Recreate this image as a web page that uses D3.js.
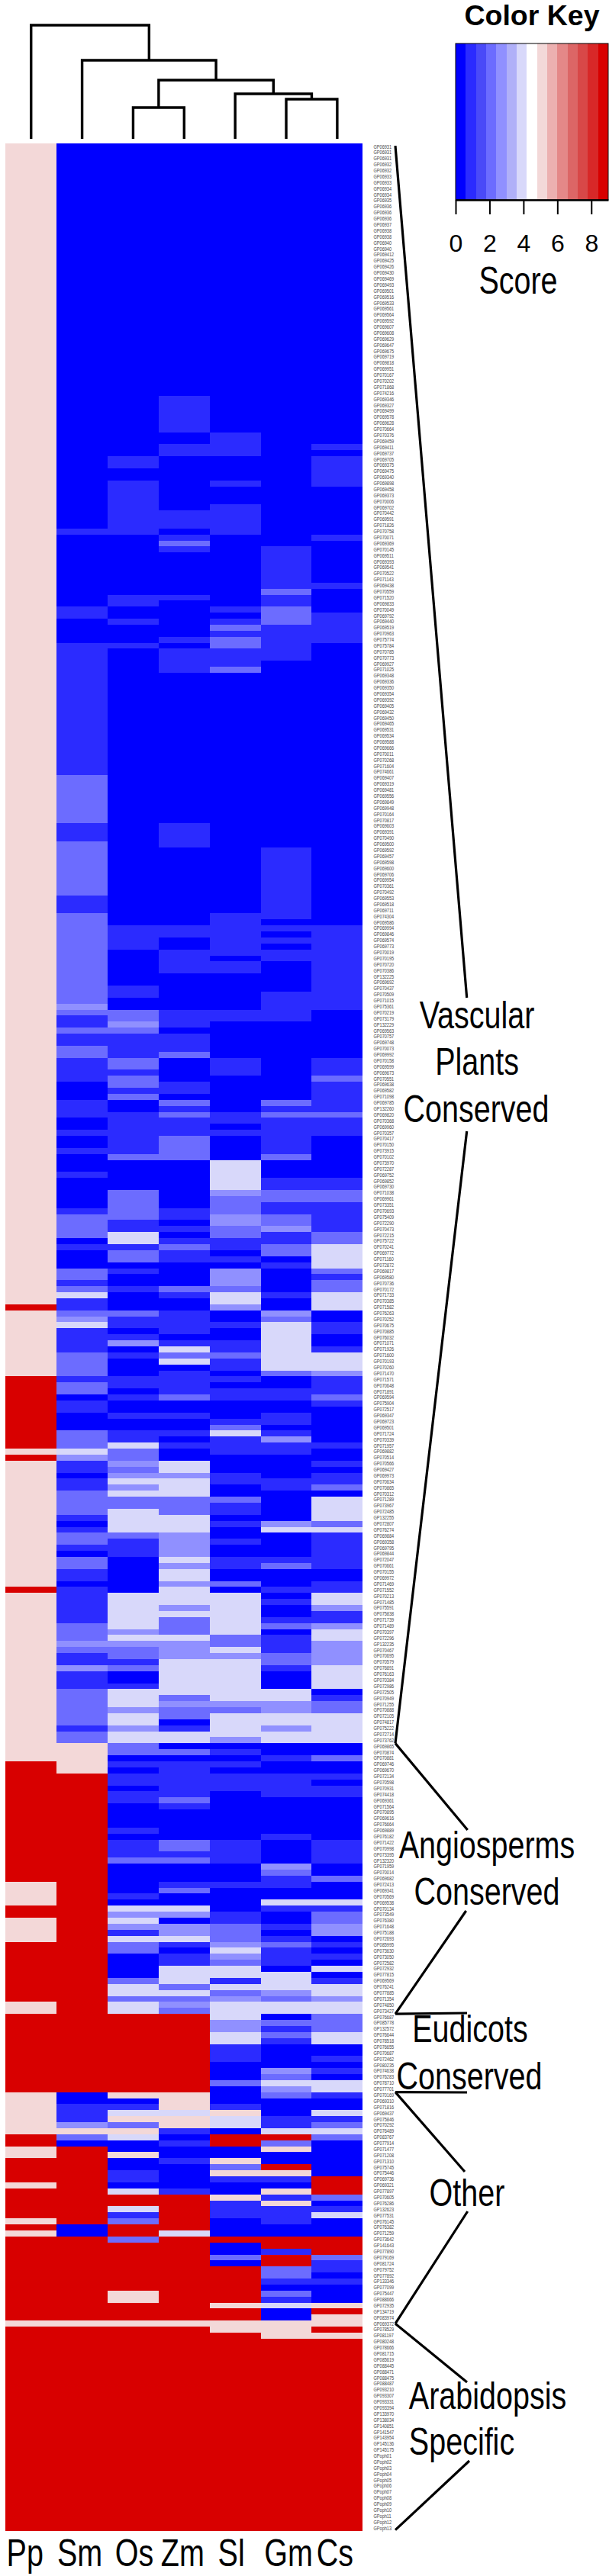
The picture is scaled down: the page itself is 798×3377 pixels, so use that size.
<!DOCTYPE html>
<html>
<head>
<meta charset="utf-8">
<script src="https://cdn.jsdelivr.net/npm/d3@7"></script>
<style>
  body { margin: 0; background: #fff; }
  text { font-family: "Liberation Sans", Arial, sans-serif; fill: #000; }
</style>
</head>
<body>
<div id="chart"></div>
<script>
var w = 798;
var h = 3377;

var species = ["Pp", "Sm", "Os", "Zm", "Sl", "Gm", "Cs"];

// row labels, top to bottom
var rowLabels = [
  "GP06931","GP06931","GP06931","GP06932","GP06932","GP06933","GP06933","GP06934","GP06934","GP06935",
  "GP06936","GP06936","GP06936","GP06937","GP06938","GP06938","GP06940","GP06940","GP069412","GP069425",
  "GP069426","GP069430","GP069469","GP069493","GP069501","GP069516","GP069533","GP069561","GP069564","GP069592",
  "GP069607","GP069608","GP069629","GP069647","GP069675","GP069719","GP069818","GP069951","GP070167","GP070202",
  "GP071868","GP074216","GP069346","GP069327","GP069499","GP069578","GP069628","GP070664","GP070376","GP069459",
  "GP069411","GP069737","GP069705","GP069375","GP069475","GP069340","GP069898","GP069458","GP069373","GP070006",
  "GP069702","GP070442","GP069591","GP071826","GP070758","GP070071","GP069369","GP070145","GP069511","GP069393",
  "GP069541","GP070522","GP071143","GP069438","GP070559","GP071520","GP069833","GP070049","GP069792","GP069440",
  "GP069519","GP070963","GP075774","GP075784","GP070785","GP070773","GP069927","GP071025","GP069348","GP069336",
  "GP069350","GP069354","GP069392","GP069405","GP069432","GP069450","GP069465","GP069531","GP069534","GP069588",
  "GP069666","GP070011","GP070268","GP071604","GP074661","GP069407","GP069319","GP069481","GP069556","GP069849",
  "GP069948","GP070164","GP070817","GP069603","GP069391","GP070490","GP069500","GP069592","GP069457","GP069598",
  "GP069600","GP069706","GP069954","GP070361","GP070492","GP069553","GP069518","GP069711","GP074304","GP069586",
  "GP069994","GP069846","GP069574","GP069773","GP070019","GP070195","GP070720","GP070386","GP132225","GP069692",
  "GP070437","GP070509","GP071015","GP075361","GP070219","GP073179","GP132229","GP069563","GP070757","GP069748",
  "GP070073","GP069992","GP070158","GP069599","GP069673","GP070551","GP069638","GP069582","GP071098","GP069785",
  "GP132260","GP069820","GP070368","GP069960","GP070357","GP070417","GP070150","GP073915","GP070102","GP073970",
  "GP072287","GP069752","GP069852","GP069730","GP071038","GP069961","GP073351","GP070693","GP075409","GP072290",
  "GP070473","GP072215","GP075722","GP070241","GP069772","GP071160","GP072872","GP069817","GP069580","GP070736",
  "GP070172","GP071733","GP070385","GP071582","GP076263","GP070252","GP070675","GP070885","GP076032","GP071071",
  "GP071926","GP071600","GP070193","GP070260","GP071470","GP071571","GP070648","GP071891","GP069594","GP075904",
  "GP072517","GP069347","GP069723","GP069501","GP071724","GP070339","GP071957","GP069882","GP070514","GP070566",
  "GP069427","GP069973","GP070634","GP070865","GP070312","GP071289","GP073967","GP072485","GP132255","GP072807",
  "GP076274","GP069884","GP069358","GP069795","GP069844","GP072047","GP070661","GP070155","GP069972","GP071469",
  "GP071552","GP070213","GP071485","GP075591","GP075838","GP071739","GP071489","GP070397","GP072296","GP132235",
  "GP070467","GP070695","GP070579","GP076891","GP076163","GP070384","GP072986","GP072505","GP070949","GP071255",
  "GP070888","GP072105","GP074817","GP075222","GP072714","GP073762","GP069865","GP070874","GP070881","GP069746",
  "GP069670","GP072134","GP070598","GP070931","GP074418","GP069361","GP071564","GP070895","GP069616","GP076664",
  "GP069889","GP076182","GP071422","GP070998","GP073395","GP132320","GP071959","GP070014","GP069682","GP072413",
  "GP069341","GP070569","GP069538","GP070134","GP073549","GP076380","GP071648","GP075188","GP072693","GP085995",
  "GP073630","GP073050","GP072582","GP072932","GP077815","GP069569","GP076241","GP077885","GP071354","GP074850",
  "GP073427","GP076687","GP085778","GP132572","GP076644","GP078518","GP076655","GP070687","GP072462","GP080235",
  "GP074638","GP076283","GP078710","GP077701","GP070169","GP069310","GP071816","GP069437","GP075846","GP070292",
  "GP076489","GP083767","GP077914","GP071477","GP071208","GP071310","GP075745","GP075446","GP069736","GP069321",
  "GP077897","GP070605","GP076286","GP132623","GP077531","GP076145","GP076382","GP071259","GP073642","GP141643",
  "GP077890","GP079169","GP081724","GP079752","GP077892","GP133346","GP077099","GP075447","GP088666","GP072935",
  "GP134719","GP083974","GP069372","GP078529","GP081197","GP080248","GP078666","GP081715","GP085619","GP088445",
  "GP088471","GP088475","GP088487","GP093210","GP093307","GP093331","GP093394","GP133970","GP138034","GP140851",
  "GP141547","GP143954","GP145136","GP145175","GPoph01","GPoph02","GPoph03","GPoph04","GPoph05","GPoph06",
  "GPoph07","GPoph08","GPoph09","GPoph10","GPoph11","GPoph12","GPoph13"
];

// scores per species, as [row where the score starts, score]
var Pp = [[0,5],[193,9],[194,5],[205,9],[217,5],[218,9],[219,5],[240,9],[241,5],[269,9],[289,5],[293,9],[295,5],[299,9],[309,5],[311,9],[324,5],[331,9],[333,5],[335,9],[339,5],[340,9],[345,5],[346,9],[347,5],[348,9],[362,5],[363,9]];
var Sm = [[0,0],[64,1],[65,0],[77,1],[79,0],[83,1],[105,2],[113,1],[116,2],[125,1],[128,2],[143,3],[144,2],[145,1],[147,2],[148,1],[150,2],[152,1],[156,0],[159,1],[162,0],[164,1],[165,0],[167,1],[168,0],[171,1],[172,0],[177,1],[178,2],[182,0],[183,1],[184,0],[187,2],[189,1],[190,2],[191,4],[192,1],[194,2],[195,3],[196,4],[197,1],[201,2],[205,1],[206,2],[208,0],[209,1],[211,0],[214,2],[217,4],[218,3],[219,1],[221,0],[222,1],[224,2],[228,1],[229,0],[230,1],[231,2],[233,1],[234,0],[235,2],[237,1],[239,0],[240,1],[246,2],[249,3],[250,2],[251,1],[253,3],[254,1],[257,2],[263,1],[264,2],[266,5],[271,9],[324,0],[326,1],[329,3],[330,5],[331,2],[332,0],[333,9],[346,0],[348,9],[362,5],[363,9]];
var Os = [[0,0],[52,1],[54,0],[56,1],[65,0],[75,1],[77,0],[79,1],[80,0],[83,1],[84,0],[130,1],[134,0],[140,1],[142,0],[144,2],[146,3],[147,2],[148,1],[152,2],[154,1],[155,2],[157,1],[158,2],[159,0],[161,1],[168,2],[169,0],[174,2],[179,1],[181,4],[183,1],[184,2],[186,0],[187,1],[188,0],[190,1],[191,0],[194,2],[195,1],[197,0],[198,1],[199,3],[200,0],[201,1],[202,0],[205,1],[207,0],[208,1],[209,0],[211,1],[212,0],[214,1],[216,4],[217,2],[219,3],[220,2],[221,3],[222,4],[223,3],[224,4],[225,2],[227,4],[231,2],[232,1],[235,0],[241,4],[247,3],[248,4],[249,3],[250,2],[252,1],[253,2],[254,0],[256,1],[257,4],[260,3],[261,4],[263,3],[264,4],[266,2],[268,0],[269,1],[270,0],[271,1],[273,0],[274,1],[276,0],[280,1],[281,0],[282,1],[285,2],[286,0],[291,1],[292,0],[293,4],[294,3],[295,4],[296,3],[297,1],[298,4],[299,2],[301,0],[305,2],[306,4],[308,2],[309,4],[311,9],[324,5],[325,0],[326,1],[327,4],[328,5],[329,2],[330,5],[331,4],[332,0],[334,5],[335,0],[337,1],[339,0],[340,4],[341,9],[343,4],[344,1],[345,2],[346,9],[348,2],[349,9],[357,5],[359,9],[362,5],[363,9]];
var Zm = [[0,0],[42,1],[48,0],[50,1],[52,0],[61,1],[64,0],[65,1],[66,2],[67,1],[68,0],[75,1],[76,0],[82,1],[83,0],[84,1],[88,0],[113,1],[117,0],[130,1],[132,0],[134,1],[138,0],[144,1],[147,0],[148,1],[151,2],[152,0],[156,1],[158,0],[159,2],[160,1],[161,2],[162,1],[165,2],[169,0],[177,1],[179,0],[180,1],[181,0],[182,1],[183,2],[184,1],[186,0],[190,2],[191,1],[192,0],[194,1],[198,0],[199,1],[200,4],[201,2],[202,4],[203,0],[204,1],[208,2],[209,0],[211,1],[212,0],[214,1],[215,0],[216,1],[217,0],[219,4],[221,3],[222,4],[225,2],[228,4],[231,3],[235,4],[236,3],[237,4],[239,3],[240,4],[243,3],[244,4],[245,2],[248,4],[249,3],[252,4],[258,2],[259,3],[260,2],[262,0],[263,1],[264,4],[266,0],[267,2],[268,0],[269,1],[275,2],[276,1],[277,0],[282,2],[284,1],[285,2],[286,0],[289,1],[290,2],[291,0],[293,4],[294,3],[295,0],[296,3],[298,4],[299,1],[300,0],[301,1],[303,4],[306,2],[307,4],[308,2],[309,3],[310,2],[311,9],[324,5],[327,4],[328,5],[330,1],[331,0],[332,1],[333,0],[335,1],[336,0],[340,1],[341,9],[347,4],[348,9],[362,5],[363,9]];
var Sl = [[0,0],[48,1],[52,0],[56,1],[57,0],[60,1],[65,0],[77,1],[78,0],[79,1],[80,2],[81,1],[82,2],[84,1],[87,2],[88,0],[128,1],[135,0],[136,1],[138,0],[144,1],[146,0],[152,1],[155,0],[161,1],[163,0],[164,1],[165,0],[169,4],[174,3],[175,2],[178,3],[180,2],[182,1],[184,0],[185,1],[186,0],[187,3],[190,2],[191,4],[193,3],[194,0],[196,1],[197,0],[199,1],[201,2],[202,1],[204,0],[205,1],[206,0],[207,1],[209,0],[212,1],[213,2],[214,4],[215,1],[218,0],[221,1],[223,0],[225,2],[226,1],[228,0],[229,1],[230,0],[232,1],[233,0],[235,1],[237,0],[239,2],[240,0],[241,4],[248,2],[250,4],[251,3],[252,4],[259,3],[260,2],[261,4],[265,3],[266,0],[267,1],[268,0],[269,1],[270,0],[271,1],[274,0],[282,1],[286,0],[289,1],[290,0],[294,1],[296,2],[299,3],[300,4],[301,3],[302,2],[303,4],[305,1],[306,4],[307,2],[308,3],[309,4],[312,3],[314,4],[316,1],[319,0],[322,2],[323,0],[326,1],[327,5],[328,4],[330,0],[331,9],[333,0],[335,5],[336,2],[337,5],[338,1],[339,0],[341,5],[342,1],[345,0],[348,9],[349,0],[351,2],[352,0],[353,9],[359,5],[360,9],[362,5],[364,9]];
var Gm = [[0,0],[67,1],[74,2],[75,1],[77,2],[80,1],[86,0],[117,1],[129,0],[130,1],[131,0],[132,1],[133,0],[134,1],[136,0],[141,1],[146,0],[159,2],[160,1],[161,2],[162,1],[168,2],[169,0],[172,1],[174,2],[176,1],[178,2],[180,3],[181,1],[183,2],[185,0],[186,1],[187,0],[191,1],[192,0],[194,3],[195,2],[196,4],[204,2],[205,0],[207,1],[209,0],[211,1],[213,0],[214,1],[215,3],[216,1],[218,0],[222,1],[224,0],[229,3],[230,4],[231,0],[235,1],[236,2],[237,0],[240,1],[241,0],[242,1],[243,0],[245,1],[246,2],[247,0],[248,1],[251,2],[253,1],[254,0],[257,4],[259,3],[261,4],[263,3],[264,4],[266,0],[268,1],[269,0],[271,1],[275,0],[281,1],[282,0],[286,3],[287,2],[288,1],[290,0],[292,4],[293,1],[294,0],[296,1],[297,0],[298,1],[299,2],[300,1],[303,0],[304,4],[307,3],[308,2],[309,4],[311,0],[312,2],[313,1],[314,2],[315,1],[316,0],[320,3],[321,2],[322,4],[323,3],[324,2],[325,0],[328,1],[330,4],[331,9],[332,2],[333,5],[334,0],[336,9],[337,5],[338,1],[339,0],[340,5],[341,1],[342,5],[343,1],[346,0],[348,9],[350,1],[351,9],[353,2],[355,1],[356,0],[357,2],[358,1],[359,4],[360,0],[362,5],[365,9]];
var Cs = [[0,0],[50,1],[51,0],[52,1],[57,0],[65,1],[66,0],[73,1],[74,0],[78,1],[83,0],[130,1],[144,0],[152,1],[155,2],[156,1],[161,2],[162,1],[165,0],[172,1],[174,2],[176,1],[181,2],[183,4],[187,2],[188,1],[189,2],[191,4],[194,0],[196,1],[198,0],[200,1],[201,4],[204,3],[205,1],[208,2],[209,1],[210,0],[216,1],[217,0],[219,1],[220,0],[221,1],[223,2],[224,0],[225,4],[229,2],[230,4],[231,1],[237,0],[239,1],[241,4],[243,3],[244,1],[246,3],[247,4],[249,3],[253,4],[257,0],[258,1],[259,2],[261,4],[266,0],[268,2],[269,0],[271,1],[272,0],[273,1],[275,0],[282,1],[286,0],[288,2],[289,0],[292,4],[293,1],[294,2],[296,3],[298,0],[299,1],[300,0],[301,1],[302,0],[303,4],[304,0],[305,1],[306,4],[308,3],[309,4],[311,2],[314,4],[316,0],[318,1],[319,0],[320,1],[321,0],[322,4],[324,1],[325,0],[327,4],[328,1],[329,2],[330,4],[331,2],[332,0],[338,9],[341,2],[342,0],[343,1],[344,4],[345,0],[348,9],[351,2],[352,1],[354,0],[355,1],[356,0],[359,5],[360,9],[361,5],[363,9],[364,5],[365,9]];
var speciesScores = [Pp, Sm, Os, Zm, Sl, Gm, Cs];

var keyColors = ["#0000ff","#2b2bff","#4a4af8","#6c6cff","#9090ff","#b0b0f8","#d8d8fa","#ffffff","#f3d8d8","#ecb0b0","#e48888","#dc6666","#d84848","#d82828","#d80000"];
var keyTicks = [0, 2, 4, 6, 8];

// column tree, merge heights
var columnTree = {height: 14.9, children: [
  {name: "Pp"},
  {height: 10.3, children: [
    {name: "Sm"},
    {height: 7.7, children: [
      {height: 4.1, children: [{name: "Os"}, {name: "Zm"}]},
      {height: 5.9, children: [
        {name: "Sl"},
        {height: 5.2, children: [{name: "Gm"}, {name: "Cs"}]}
      ]}
    ]}
  ]}
]};

// rows where each gene group starts/ends
var groupBounds = [0, 266, 311, 324, 362.5, 397];

var svg = d3.select("#chart")
            .append("svg")
            .attr("width", w)
            .attr("height", h)
            .style("display", "block");

// SCALES
var nRows = rowLabels.length;
var xScale = d3.scaleBand().domain(species).range([7.3, 475.3]);
var yScale = d3.scaleBand().domain(d3.range(nRows)).range([188.2, 3318.2]);
var yEdge = d3.scaleLinear().domain([0, nRows]).range([188.2, 3318.2]);
var keyScale = d3.scaleLinear().domain([0, 9]).range([597, 797]);
var color = d3.scaleThreshold()
    .domain(d3.range(1, keyColors.length).map((i) => i * 0.6 + 1e-6))
    .range(keyColors);

// HEATMAP
var cells = [];
species.forEach((name, i) => {
    var changes = speciesScores[i];
    changes.forEach((c, k) => {
        var end = k + 1 < changes.length ? changes[k + 1][0] : nRows;
        for (var r = c[0]; r < end; r++) {
            cells.push({species: name, row: r, score: c[1]});
        }
    });
});

svg.append("g")
    .attr("shape-rendering", "crispEdges")
    .selectAll("rect")
    .data(cells)
    .enter()
    .append("rect")
    .attr("x", (d) => xScale(d.species))
    .attr("y", (d) => yScale(d.row))
    .attr("width", xScale.bandwidth())
    .attr("height", yScale.bandwidth())
    .attr("fill", (d) => color(d.score));

// ROW LABELS
svg.append("g")
    .selectAll("text")
    .data(rowLabels)
    .enter()
    .append("text")
    .attr("transform", (d, i) => "translate(489.5," + (yScale(i) + yScale.bandwidth() / 2 + 2.4) + ") scale(0.86,1)")
    .attr("font-size", 6.5)
    .style("fill", "#444")
    .text((d) => d);

// DENDROGRAM
var root = d3.hierarchy(columnTree);
var heightScale = d3.scaleLinear().domain([0, 14.9]).range([182, 33]);
root.eachAfter((n) => {
    n.px = n.children
        ? d3.mean(n.children, (c) => c.px)
        : xScale(n.data.name) + xScale.bandwidth() / 2;
    n.py = heightScale(n.data.height || 0);
});
svg.append("g")
    .selectAll("path")
    .data(root.descendants().filter((n) => n.children))
    .enter()
    .append("path")
    .attr("fill", "none")
    .attr("stroke", "#000")
    .attr("stroke-width", 3.4)
    .attr("d", (n) => {
        var a = n.children[0], b = n.children[1];
        return "M" + a.px + "," + a.py + "V" + n.py + "H" + b.px + "V" + b.py;
    });

// COLOR KEY
var keyG = svg.append("g");
keyG.append("g")
    .attr("shape-rendering", "crispEdges")
    .selectAll("rect")
    .data(keyColors)
    .enter()
    .append("rect")
    .attr("x", (d, i) => keyScale(i * 0.6))
    .attr("y", 57)
    .attr("width", keyScale(0.6) - keyScale(0))
    .attr("height", 205)
    .attr("fill", (d) => d);
keyG.append("rect")
    .attr("x", 597)
    .attr("y", 57)
    .attr("width", 200)
    .attr("height", 205)
    .attr("fill", "none")
    .attr("stroke", "#000")
    .attr("stroke-width", 1);

var keyAxis = d3.axisBottom(keyScale)
    .tickValues(keyTicks)
    .tickSize(19)
    .tickSizeOuter(0)
    .tickPadding(26);
var keyAxisG = keyG.append("g")
    .attr("transform", "translate(0,262)")
    .call(keyAxis);
keyAxisG.selectAll("line").attr("stroke", "#000").attr("stroke-width", 2);
keyAxisG.select(".domain").attr("stroke", "#000").attr("stroke-width", 2.5);
keyAxisG.selectAll("text")
    .attr("font-size", 32)
    .attr("font-family", "Liberation Sans")
    .attr("fill", "#000");

keyG.append("text")
    .attr("x", 697)
    .attr("y", 33)
    .attr("text-anchor", "middle")
    .attr("font-size", 37.5)
    .attr("font-weight", "bold")
    .text("Color Key");

function bigLabel(parent, text, x, y) {
    return parent.append("text")
        .attr("transform", "translate(" + x + "," + y + ") scale(0.79,1)")
        .attr("text-anchor", "middle")
        .attr("font-size", 50)
        .text(text);
}
bigLabel(keyG, "Score", 679, 385);

// SPECIES LABELS
var speciesLabelShift = [-8, -3, 1.5, -2, -5, 3, -3];
species.forEach((name, i) => {
    bigLabel(svg, name, xScale(name) + xScale.bandwidth() / 2 + speciesLabelShift[i], 3364);
});

// GENE GROUPS
var groups = [
    {lines: [["Vascular", 625, 1348], ["Plants", 625, 1409], ["Conserved", 624, 1471]],
     top: [611.7, 1308], bottom: [611.7, 1483]},
    {lines: [["Angiosperms", 638, 2436], ["Conserved", 638, 2497]],
     top: [612.7, 2399], bottom: [610.7, 2505]},
    {lines: [["Eudicots", 616, 2677], ["Conserved", 615, 2739]],
     top: [612, 2639], bottom: [612, 2743]},
    {lines: [["Other", 612, 2892]],
     top: [609, 2847], bottom: [612.7, 2899]},
    {lines: [["Arabidopsis", 639, 3158], ["Specific", 605, 3218]],
     top: [612, 3123], bottom: [615, 3226]}
];
var groupG = svg.append("g");
groups.forEach((g, i) => {
    g.lines.forEach((l) => bigLabel(groupG, l[0], l[1], l[2]));
    var startY = i === 0 ? yEdge(groupBounds[i]) + 3 : yEdge(groupBounds[i]);
    var endY = i === groups.length - 1 ? yEdge(groupBounds[i + 1]) - 1.5 : yEdge(groupBounds[i + 1]);
    groupG.append("path")
        .attr("fill", "none")
        .attr("stroke", "#000")
        .attr("stroke-width", 3.2)
        .attr("d", "M518," + startY + "L" + g.top + "M" + g.bottom + "L518," + endY);
});
</script>
</body>
</html>
